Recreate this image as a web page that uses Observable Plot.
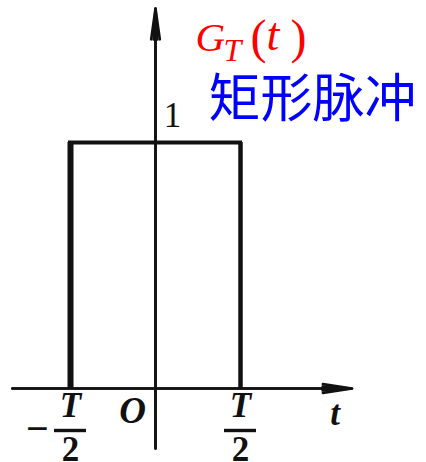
<!DOCTYPE html>
<html>
<head>
<meta charset="utf-8">
<script src="https://cdn.jsdelivr.net/npm/d3@7"></script>
<script src="https://cdn.jsdelivr.net/npm/@observablehq/plot@0.6"></script>
<style>
  html, body { margin: 0; padding: 0; background: #fff; }
  #chart svg { display: block; }
</style>
</head>
<body>
<div id="chart"></div>
<script>
// Rectangular pulse G_T(t): value 1 for -T/2 < t < T/2, 0 elsewhere (t measured in units of T)
const pulseEdges = [-0.5, 0.5];
const pulseLevel = [1];
const halfPeriods = [-0.5, 0.5];          // positions labelled ±T/2
const originTick = [0];
const axisT = [-0.842, 1.156];             // extent of the horizontal t axis
const axisG = [-0.244, 1.545];             // extent of the vertical axis
const titleName = "矩形脉冲";

const serif = "Liberation Serif, Times New Roman, serif";
const ink = "#111";
const red = "#f00";

// small helper for the pieces of the red function name
const namePiece = (s, dx, dy, size, italic) =>
  Plot.text([s], {
    frameAnchor: "top-left", lineAnchor: "middle", textAnchor: "start",
    text: d => d, dx, dy, fontFamily: serif, fontSize: size,
    fontStyle: italic ? "italic" : "normal", fill: red
  });

const chart = Plot.plot({
  width: 426,
  height: 462,
  margin: 0,
  x: {domain: [-155 / 170, 271 / 170], axis: null},
  y: {domain: [-74 / 246, 388 / 246], axis: null},
  style: {background: "#fff", overflow: "visible"},
  marks: [
    // axes with solid-looking arrowheads
    Plot.arrow([0], {x1: axisT[0], x2: axisT[1], y1: 0, y2: 0, stroke: ink, strokeWidth: 2.6, headLength: 17, headAngle: 17}),
    Plot.arrow([0], {x1: axisT[0], x2: axisT[1], y1: 0, y2: 0, stroke: ink, strokeWidth: 2.6, headLength: 17, headAngle: 8}),
    Plot.arrow([0], {x1: 0, x2: 0, y1: axisG[0], y2: axisG[1], stroke: ink, strokeWidth: 2.6, headLength: 18, headAngle: 16}),
    Plot.arrow([0], {x1: 0, x2: 0, y1: axisG[0], y2: axisG[1], stroke: ink, strokeWidth: 2.6, headLength: 18, headAngle: 7}),

    // pulse outline
    Plot.ruleX([pulseEdges[0]], {y1: 0, y2: pulseLevel[0], stroke: ink, strokeWidth: 6}),
    Plot.ruleX([pulseEdges[1]], {y1: 0, y2: pulseLevel[0], stroke: ink, strokeWidth: 4.5}),
    Plot.ruleY(pulseLevel, {x1: pulseEdges[0], x2: pulseEdges[1], stroke: ink, strokeWidth: 4, strokeLinecap: "square"}),

    // ±T/2 fraction labels
    Plot.text(halfPeriods, {x: d => d, y: 0, text: () => "T", dy: 17, fontFamily: serif, fontStyle: "italic", fontWeight: "bold", fontSize: 35, fill: ink}),
    Plot.ruleY(halfPeriods, {x1: d => d, x2: d => d, y: 0, dy: 42, insetLeft: -16, insetRight: -16, stroke: ink, strokeWidth: 3.4}),
    Plot.text(halfPeriods, {x: d => d, y: 0, text: () => "2", dy: 61, fontFamily: serif, fontWeight: "bold", fontSize: 35, fill: ink}),
    Plot.text(halfPeriods.filter(d => d < 0), {x: d => d, y: 0, text: () => "−", dx: -33, dy: 41, fontFamily: serif, fontWeight: "bold", fontSize: 40, fill: ink}),

    // origin, axis name and level
    Plot.text(originTick, {x: d => d, y: 0, text: () => "O", dx: -23, dy: 23, fontFamily: serif, fontStyle: "italic", fontWeight: "bold", fontSize: 37, fill: ink}),
    Plot.text([axisT[1]], {x: d => d, y: 0, text: () => "t", dx: -17, dy: 25, fontFamily: serif, fontStyle: "italic", fontWeight: "bold", fontSize: 35, fill: ink}),
    Plot.text(pulseLevel, {x: 0, y: d => d, text: d => String(d), dx: 17, dy: -27, fontFamily: serif, fontSize: 35, fill: ink}),

    // function name G_T(t)
    namePiece("G", 195, 37, 41, true),
    namePiece("T", 223, 50, 32, true),
    namePiece("(", 250, 37, 48, false),
    namePiece("t", 266, 35, 46, true),
    namePiece(")", 290, 37, 48, false),

    // caption
    Plot.text([titleName], {frameAnchor: "top-left", lineAnchor: "middle", text: d => d, dx: 312, dy: 100, textAnchor: "middle", fontFamily: "Noto Sans CJK SC", fontSize: 52, fill: "#00f"})
  ]
});

document.getElementById("chart").append(chart);
</script>
</body>
</html>
